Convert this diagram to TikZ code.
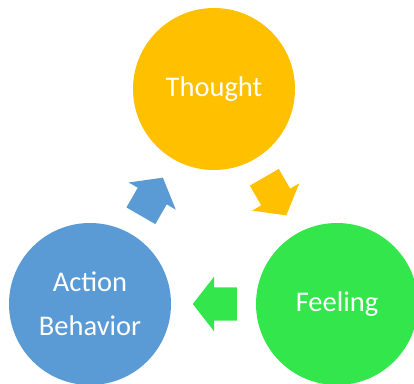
\documentclass[tikz,border=0pt]{standalone}
\usepackage{fontspec}
\setmainfont{Carlito}
\usetikzlibrary{calc,positioning,shapes.arrows}
\definecolor{thoughtgold}{HTML}{FFC000}
\definecolor{feelgreen}{HTML}{33E64B}
\definecolor{actblue}{HTML}{5B9BD5}
\tikzset{stage/.style={circle, minimum size=162pt, inner sep=0pt, text=white, align=center,
		font=\fontsize{28.5}{44}\selectfont}}
\tikzset{blockarrow/.style={single arrow, draw=none, inner sep=0pt, minimum height=44pt,
		text height=16.5pt, text depth=16.5pt, single arrow head extend=10.5pt,
		single arrow tip angle=104, single arrow head indent=0pt, anchor=tip}}

\begin{document}
\begin{tikzpicture}[x=1pt, y=1pt]
			\clip (0,0) rectangle (414,383);
			\useasboundingbox (0,0) rectangle (414,383);
			
			\node[stage, fill=thoughtgold] (thought) at (214,294) {Thought};
			\node[stage, fill=feelgreen] (feeling) at (337,79) {Feeling};
			\node[stage, fill=actblue] (action) at (90,79) {Action\\Behavior};
			
			% cycle arrows between the circles, tip 22pt past the midpoint
			\node[blockarrow, fill=thoughtgold, rotate=-60] (tf)
				at ($($(thought)!0.5!(feeling)$)!22pt!(feeling)$) {};
			\node[blockarrow, fill=feelgreen, rotate=180] (fa)
				at ($($(feeling)!0.5!(action)$)!21pt!(action)$) {};
			\node[blockarrow, fill=actblue, rotate=60] (ta)
				at ($($(action)!0.5!(thought)$)!22pt!(thought)$) {};
\end{tikzpicture}
\end{document}
